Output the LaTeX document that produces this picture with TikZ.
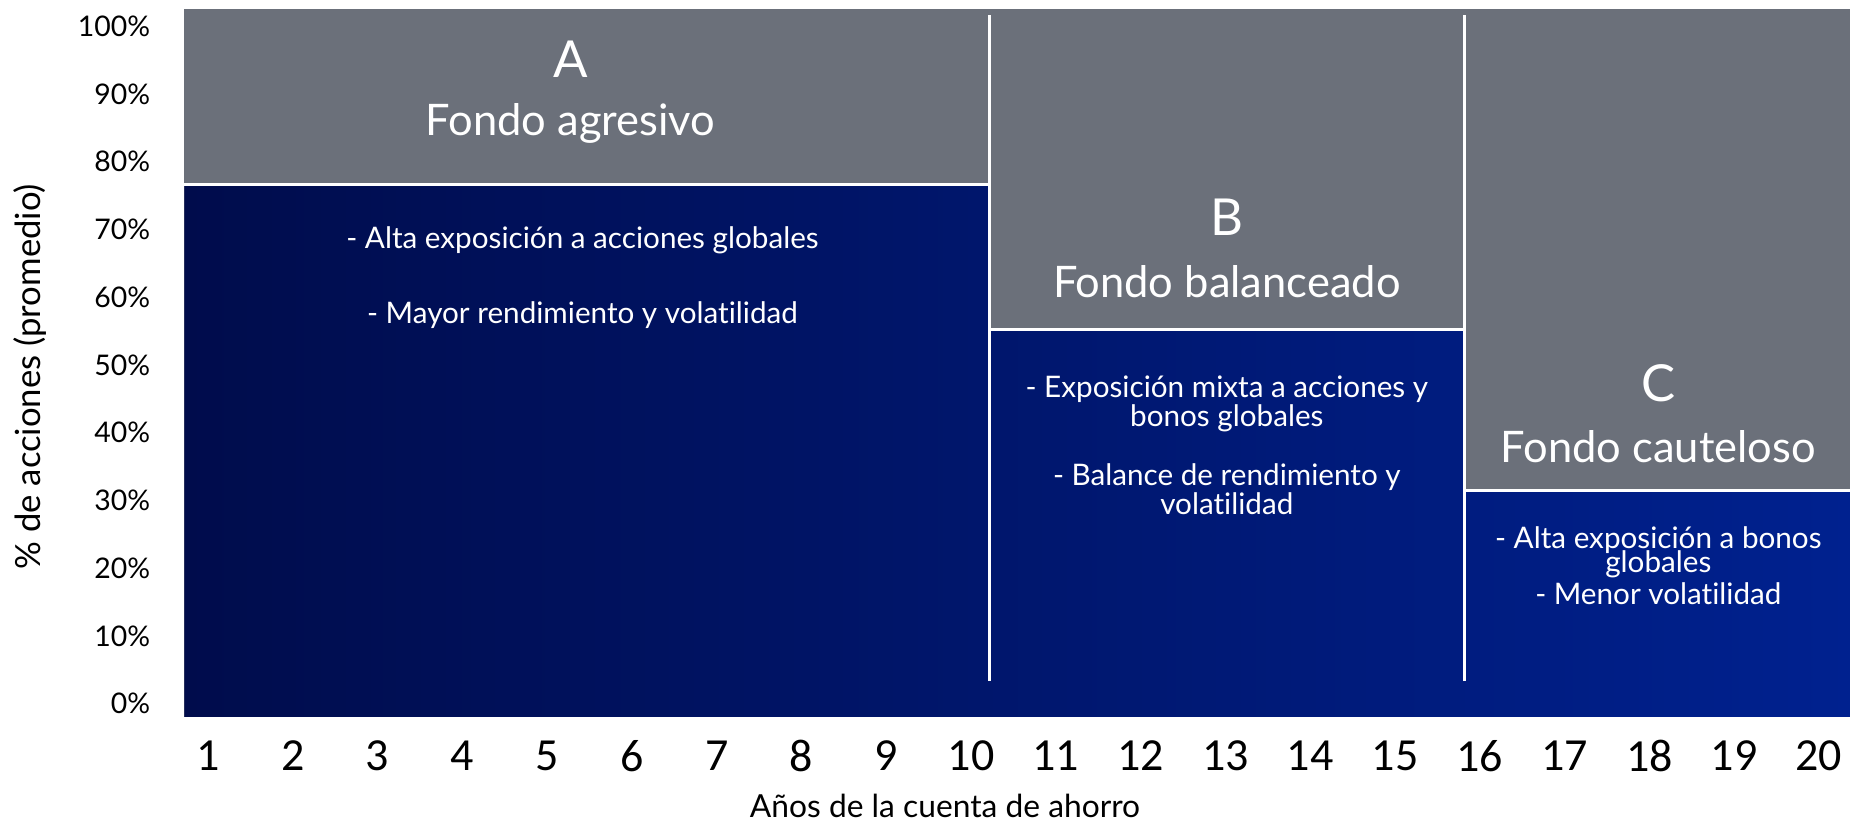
\documentclass[tikz,border=0pt]{standalone}
\usepackage{fontspec}
\setmainfont{Lato}[Ligatures=NoCommon]
\newfontfamily\numfont{Carlito}
\definecolor{fundgray}{HTML}{6B707A}
\definecolor{navydark}{HTML}{000C4C}
\definecolor{navylight}{HTML}{00218F}
\tikzset{
    fundletter/.style={text=white, font=\fontsize{12.2}{13}\selectfont},
    fundname/.style={text=white, font=\fontsize{10.4}{11}\selectfont},
    fundnote/.style={text=white, align=center, font=\fontsize{7.1}{7}\selectfont},
    pctlabel/.style={anchor=east, inner sep=0pt, font=\fontsize{6.8}{7}\selectfont},
    yearlabel/.style={font=\numfont\fontsize{11}{12}\selectfont},
    axistitle/.style={font=\fontsize{7.6}{8}\selectfont},
    divider/.style={white, line width=0.7pt}
}

\begin{document}
\begin{tikzpicture}
    \useasboundingbox (-1.55,-0.88) rectangle (14.13,6.03);
    \coordinate (O) at (0,0);
    \pgfmathsetmacro{\W}{14.01}  % chart width, cm
    \pgfmathsetmacro{\H}{5.95}  % chart height, cm
    \pgfmathsetmacro{\xAB}{6.77}  % split between A and B
    \pgfmathsetmacro{\xBC}{10.77}  % split between B and C
    \pgfmathsetmacro{\yA}{4.48}  % top of blue, fund A
    \pgfmathsetmacro{\yB}{3.26}  % top of blue, fund B
    \pgfmathsetmacro{\yC}{1.90}  % top of blue, fund C
    % grey back, blue steps over it
    \fill[fundgray] (O) rectangle (\W,\H);
    \shade[left color=navydark, right color=navylight] (O) -- (0,\yA) -- (\xAB,\yA) -- (\xAB,\yB)
        -- (\xBC,\yB) -- (\xBC,\yC) -- (\W,\yC) -- (\W,0) -- cycle;
    % white dividers
    \draw[divider] (0,\yA) -- (\xAB,\yA);
    \draw[divider] (\xAB,\yB) -- (\xBC,\yB);
    \draw[divider] (\xBC,\yC) -- (\W,\yC);
    \draw[divider] (\xAB,0.30) -- (\xAB,5.90);
    \draw[divider] (\xBC,0.30) -- (\xBC,5.90);

    % fund A
    \node[fundletter] (letterA) at (3.25,5.53) {A};
    \node[fundname] (nameA) at (3.25,4.99) {Fondo agresivo};
    \node[fundnote] (noteA1) at (3.35,4.01) {- Alta exposición a acciones globales};
    \node[fundnote] (noteA2) at (3.35,3.38) {- Mayor rendimiento y volatilidad};
    % fund B
    \node[fundletter] (letterB) at (8.77,4.20) {B};
    \node[fundname] (nameB) at (8.77,3.66) {Fondo balanceado};
    \node[fundnote] (noteB1) at (8.77,2.63) {- Exposición mixta a acciones y\\bonos globales};
    \node[fundnote] (noteB2) at (8.77,1.915) {- Balance de rendimiento y\\volatilidad};
    % fund C
    \node[fundletter] (letterC) at (12.40,2.81) {C};
    \node[fundname] (nameC) at (12.40,2.27) {Fondo cauteloso};
    \node[fundnote] (noteC) at (12.40,1.27)
        {- Alta exposición a bonos\\[-1.3pt]globales\\[0.6pt]- Menor volatilidad};

    % axes
    \foreach \p in {0,...,10} {
        \pgfmathtruncatemacro{\pct}{10*\p}
        \node[pctlabel] (pct\p) at (-0.28,0.11+0.57*\p) {\pct\%};
    }
    \foreach \n in {1,...,20}
        \node[yearlabel] (year\n) at (0.20+0.7132*\n-0.7132,-0.33) {\n};
    \node[axistitle, anchor=base] (xtitle) at (6.40,-0.845) {Años de la cuenta de ahorro};
    \node[axistitle, rotate=90, font=\fontsize{8.3}{9}\selectfont] (ytitle) at (-1.30,2.86) {\% de acciones (promedio)};
\end{tikzpicture}
\end{document}
